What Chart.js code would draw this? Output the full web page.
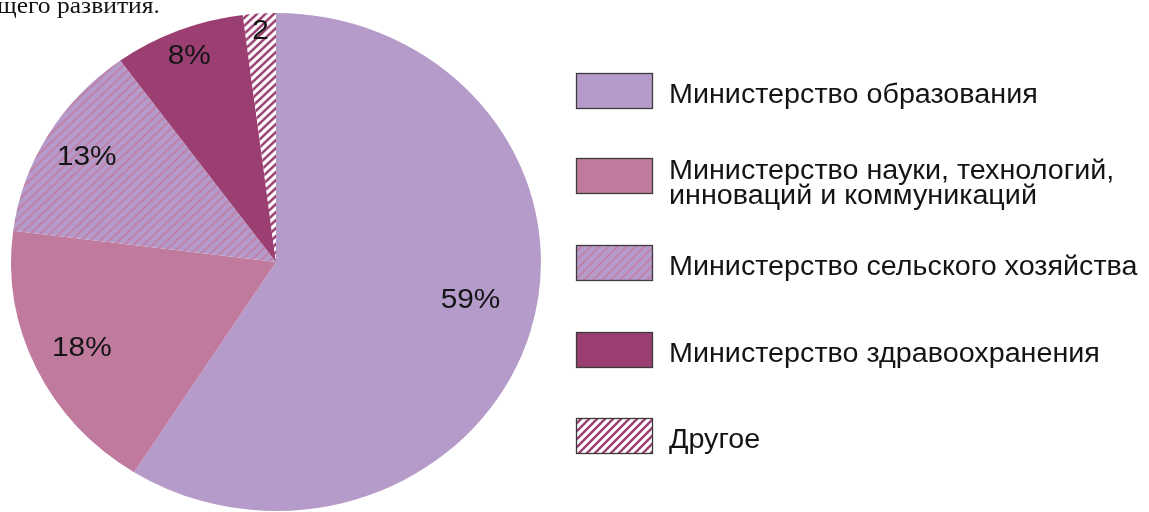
<!DOCTYPE html>
<html lang="ru">
<head>
<meta charset="utf-8">
<script src="https://cdn.jsdelivr.net/npm/chart.js@4.4.1/dist/chart.umd.min.js"></script>
<style>
  html, body { margin: 0; padding: 0; background: #ffffff; overflow: hidden; }
  #wrap { position: relative; width: 1149px; height: 512px; }
</style>
</head>
<body>
<div id="wrap"><canvas id="pie" width="1149" height="512"></canvas></div>
<script>
// Распределение по ведомствам, %
const categories = [
  "Министерство образования",
  "Министерство науки, технологий, инноваций и коммуникаций",
  "Министерство сельского хозяйства",
  "Министерство здравоохранения",
  "Другое"
];
const legendLines = [
  ["Министерство образования"],
  ["Министерство науки, технологий,", "инноваций и коммуникаций"],
  ["Министерство сельского хозяйства"],
  ["Министерство здравоохранения"],
  ["Другое"]
];
const shares = [59, 18, 13, 8, 2];
const valueLabels = ["59%", "18%", "13%", "8%", "2"];

// Оформление
const LILAC = "#b49bca";
const ROSE = "#c07a9e";
const PLUM = "#9b3f72";
const STRETCH_X = 1.064;            // the whole figure is slightly wider than tall
const labelRadius = [0.75, 0.81, 0.83, 0.89, 0.93];
const labelShift = [-0.077, 0, 0, 0, 0];

function hatch(bg, line, size, width) {
  const c = document.createElement("canvas");
  c.width = size; c.height = size;
  const g = c.getContext("2d");
  g.fillStyle = bg;
  g.fillRect(0, 0, size, size);
  g.strokeStyle = line;
  g.lineWidth = width;
  g.beginPath();
  for (let k = -1; k <= 1; k++) {
    g.moveTo(k * size - 1, size + 1);
    g.lineTo(k * size + size + 1, -1);
  }
  g.stroke();
  return g.createPattern(c, "repeat");
}

const fills = [
  LILAC,
  ROSE,
  hatch(LILAC, "#c27fa6", 9, 1.7),
  PLUM,
  hatch("#ffffff", PLUM, 8, 2.4)
];

function stretchedText(ctx, text, x, y) {
  ctx.save();
  ctx.translate(x, y);
  ctx.scale(STRETCH_X, 1);
  ctx.fillText(text, 0, 0);
  ctx.restore();
}

const ellipse = {
  id: "ellipse",
  beforeDatasetsDraw(chart) {
    const arc = chart.getDatasetMeta(0).data[0];
    const ctx = chart.ctx;
    ctx.save();
    ctx.translate(arc.x, 0);
    ctx.scale(STRETCH_X, 1);
    ctx.translate(-arc.x, 0);
  },
  afterDatasetsDraw(chart) {
    chart.ctx.restore();
  }
};

const sliceLabels = {
  id: "sliceLabels",
  afterDatasetsDraw(chart) {
    const ctx = chart.ctx;
    ctx.save();
    ctx.font = "28px 'Liberation Sans', Arial, sans-serif";
    ctx.fillStyle = "#141414";
    ctx.textAlign = "center";
    ctx.textBaseline = "middle";
    chart.getDatasetMeta(0).data.forEach((arc, i) => {
      const p = arc.getProps(["x", "y", "startAngle", "endAngle", "outerRadius"], true);
      const mid = (p.startAngle + p.endAngle) / 2 + labelShift[i];
      const r = p.outerRadius * labelRadius[i];
      stretchedText(ctx, valueLabels[i], p.x + Math.cos(mid) * r * STRETCH_X, p.y + Math.sin(mid) * r);
    });
    ctx.restore();
  }
};

const sideLegend = {
  id: "sideLegend",
  afterDraw(chart) {
    const ctx = chart.ctx;
    const colors = chart.data.datasets[0].backgroundColor;
    const tops = [73, 158, 245, 332, 418];
    ctx.save();
    legendLines.forEach((lines, i) => {
      const y = tops[i];
      ctx.fillStyle = colors[i];
      ctx.fillRect(576, y, 77, 36);
      ctx.strokeStyle = "#3c3c3c";
      ctx.lineWidth = 1.3;
      ctx.strokeRect(576.5, y + 0.5, 76, 35);
      ctx.fillStyle = "#141414";
      ctx.font = "27px 'Liberation Sans', Arial, sans-serif";
      ctx.textAlign = "left";
      ctx.textBaseline = "alphabetic";
      if (lines.length === 1) {
        stretchedText(ctx, lines[0], 669, y + 30);
      } else {
        stretchedText(ctx, lines[0], 669, y + 21);
        stretchedText(ctx, lines[1], 669, y + 46);
      }
    });
    // Обрезанная строка текста над диаграммой
    ctx.font = "24px 'Liberation Serif', 'Times New Roman', serif";
    ctx.fillStyle = "#111111";
    ctx.textAlign = "left";
    stretchedText(ctx, "щего развития.", -3, 13);
    ctx.restore();
  }
};

new Chart(document.getElementById("pie"), {
  type: "pie",
  data: {
    labels: categories,
    datasets: [{
      data: shares,
      backgroundColor: fills,
      borderWidth: 0
    }]
  },
  options: {
    responsive: false,
    animation: false,
    layout: { padding: { left: 27, top: 13, right: 624, bottom: 1 } },
    plugins: {
      legend: { display: false },
      tooltip: { enabled: false }
    }
  },
  plugins: [ellipse, sliceLabels, sideLegend]
});
</script>
</body>
</html>
